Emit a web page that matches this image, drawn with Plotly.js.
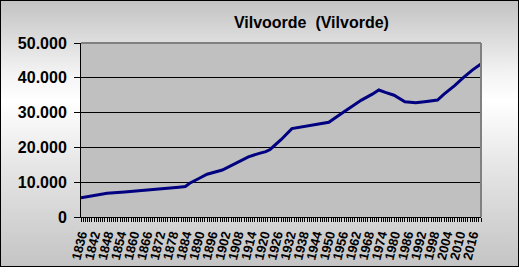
<!DOCTYPE html>
<html>
<head>
<meta charset="utf-8">
<script src="https://cdn.plot.ly/plotly-3.0.1.min.js"></script>
<style>
  html, body { margin: 0; padding: 0; }
  #wrap { position: relative; width: 519px; height: 267px;
          background: linear-gradient(to bottom, #c2c2c2 0%, #f4f4f4 28%, #ffffff 38%, #e6e6e6 62%, #c4c4c4 100%); }
  #chart { position: absolute; left: 0; top: 0; width: 519px; height: 267px; }
  #frame { position: absolute; left: 0; top: 0; width: 519px; height: 267px;
           box-sizing: border-box; border: 1px solid #000; pointer-events: none; }
</style>
</head>
<body>
<div id="wrap"><div id="chart"></div><div id="frame"></div></div>
<script>
const chartTitle = "Vilvoorde  (Vilvorde)";
const years = [1836, 1848, 1856, 1864, 1874, 1881, 1884, 1886, 1890, 1894, 1901, 1907, 1913, 1918, 1921, 1923, 1928, 1933, 1941, 1950, 1956, 1961, 1965, 1970, 1973, 1976, 1980, 1985, 1990, 1995, 2000, 2003, 2008, 2012, 2016, 2020];
const population = [5550, 6800, 7200, 7570, 8240, 8550, 8750, 9700, 11000, 12300, 13500, 15400, 17300, 18300, 18800, 19400, 22200, 25400, 26200, 27200, 29800, 31900, 33600, 35300, 36500, 35800, 35000, 33100, 32800, 33200, 33600, 35300, 37800, 40100, 42200, 44000];
const yTicks = [0, 10000, 20000, 30000, 40000, 50000];

const fontFam = "Arial, 'Liberation Sans', sans-serif";

Plotly.newPlot('chart', [{
  x: years,
  y: population,
  type: 'scatter',
  mode: 'lines',
  line: { color: '#000080', width: 3 },
  hoverinfo: 'skip'
}], {
  width: 519, height: 267,
  margin: { l: 81, r: 38, t: 43, b: 50, pad: 0 },
  paper_bgcolor: 'rgba(0,0,0,0)',
  plot_bgcolor: '#c0c0c0',
  separators: ',.',
  showlegend: false,
  title: {
    text: chartTitle,
    font: { family: fontFam, size: 16, color: '#000', weight: 'bold' },
    x: 0.6, xref: 'container', xanchor: 'center',
    y: 0.915, yref: 'container', yanchor: 'middle'
  },
  xaxis: {
    range: [1836, 2020],
    tickmode: 'linear', tick0: 1836, dtick: 6,
    ticks: 'outside', ticklen: 4, tickcolor: '#000', tickwidth: 1,
    minor: { dtick: 1, tick0: 1836, ticks: 'outside', ticklen: 4, tickcolor: '#000', tickwidth: 1, showgrid: false },
    tickangle: -76,
    tickfont: { family: fontFam, size: 13, color: '#000', weight: 'bold' },
    showline: true, linecolor: '#000', linewidth: 1,
    showgrid: false, zeroline: false, fixedrange: true
  },
  yaxis: {
    range: [0, 50000],
    tickvals: yTicks,
    tickformat: ',d',
    ticks: 'outside', ticklen: 6, tickcolor: '#000', tickwidth: 1,
    tickfont: { family: fontFam, size: 16, color: '#000', weight: 'bold' },
    ticklabelstandoff: 4,
    showline: true, linecolor: '#000', linewidth: 1,
    showgrid: true, gridcolor: '#000', gridwidth: 1,
    zeroline: false, fixedrange: true
  },
  shapes: [
    { type: 'line', xref: 'paper', yref: 'paper', x0: 0, x1: 1, y0: 1, y1: 1, line: { color: '#808080', width: 2 } },
    { type: 'line', xref: 'paper', yref: 'paper', x0: 1, x1: 1, y0: 0, y1: 1, line: { color: '#808080', width: 2 } }
  ]
}, { displayModeBar: false, staticPlot: true });
</script>
</body>
</html>
